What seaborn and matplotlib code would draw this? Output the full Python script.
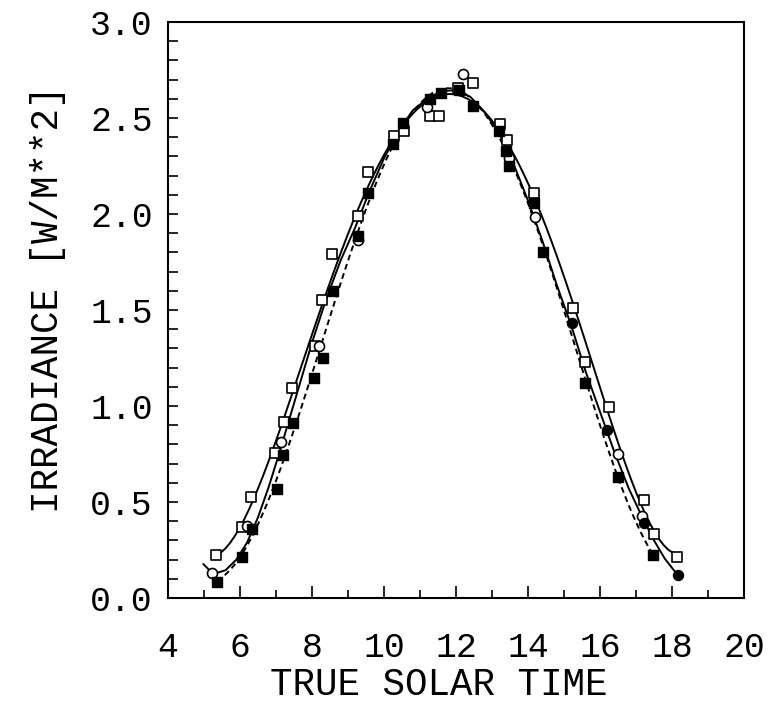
import numpy as np
import pandas as pd
import matplotlib
matplotlib.use("Agg")
import matplotlib.pyplot as plt
import seaborn as sns
from matplotlib.ticker import MultipleLocator, FormatStrFormatter

# ---- data ----
open_sq_x = [5.33, 6.05, 6.31, 6.97, 7.22, 7.44, 8.07, 8.29, 8.55, 9.29, 9.55, 10.28, 10.56,
             11.28, 11.54, 12.05, 12.46, 13.22, 13.43, 14.17, 15.26, 15.58, 16.25, 17.23, 17.50, 18.15]
open_sq_y = [0.224, 0.370, 0.526, 0.754, 0.918, 1.095, 1.310, 1.550, 1.790, 1.990, 2.220, 2.406, 2.434,
             2.510, 2.510, 2.655, 2.680, 2.470, 2.385, 2.110, 1.510, 1.230, 0.993, 0.510, 0.333, 0.212]

open_ci_x = [5.21, 6.20, 7.15, 8.20, 9.29, 11.20, 12.20, 13.48, 14.19, 16.51, 17.18]
open_ci_y = [0.130, 0.376, 0.814, 1.310, 1.865, 2.556, 2.730, 2.290, 1.986, 0.750, 0.427]

fill_ci_x = [15.21, 16.20, 17.23, 18.18]
fill_ci_y = [1.434, 0.875, 0.392, 0.120]

fill_sq_x = [5.35, 6.05, 6.32, 7.04, 7.20, 7.46, 8.06, 8.31, 8.57, 9.29, 9.55, 10.26, 10.52,
             11.28, 11.57, 12.09, 12.48, 13.20, 13.39, 13.48, 14.17, 14.43, 15.58, 16.51, 17.48]
fill_sq_y = [0.085, 0.215, 0.358, 0.566, 0.745, 0.910, 1.144, 1.250, 1.600, 1.885, 2.110, 2.365, 2.476,
             2.600, 2.630, 2.646, 2.560, 2.430, 2.330, 2.250, 2.056, 1.800, 1.118, 0.632, 0.224]

# middle solid curve
mid_curve_x = [4.98, 5.15, 5.35, 5.60, 5.90, 6.20, 6.50, 6.80, 7.10, 7.40, 7.70, 8.00, 8.40, 8.80,
               9.20, 9.60, 10.00, 10.40, 10.80, 11.20, 11.60, 12.00, 12.40, 12.80, 13.20, 13.60,
               14.00, 14.40, 14.80, 15.20, 15.60, 16.00, 16.40, 16.80, 17.20, 17.50, 17.80, 18.05, 18.20]
mid_curve_y = [0.177, 0.145, 0.130, 0.145, 0.200, 0.290, 0.420, 0.580, 0.760, 0.950, 1.140, 1.330,
               1.560, 1.760, 1.930, 2.120, 2.290, 2.430, 2.540, 2.600, 2.640, 2.645, 2.610, 2.530,
               2.420, 2.260, 2.070, 1.860, 1.630, 1.420, 1.180, 0.970, 0.760, 0.570, 0.410, 0.300,
               0.205, 0.145, 0.120]

x_ticks = [4, 6, 8, 10, 12, 14, 16, 18, 20]
y_ticks = [0.0, 0.5, 1.0, 1.5, 2.0, 2.5, 3.0]

df_sq = pd.DataFrame({"t": open_sq_x, "e": open_sq_y})
df_fs = pd.DataFrame({"t": fill_sq_x, "e": fill_sq_y})

sns.set_theme(style="white")
plt.rcParams["font.family"] = ["Liberation Mono", "DejaVu Sans Mono"]

fig = plt.figure(figsize=(7.68, 7.04), dpi=100)
ax = fig.add_axes([168 / 768, 106 / 704, 576 / 768, 576 / 704])

# curves
sns.regplot(data=df_sq, x="t", y="e", order=6, ci=None, scatter=False, truncate=True,
            color="black", line_kws={"lw": 1.4}, ax=ax)
sns.lineplot(x=mid_curve_x, y=mid_curve_y, sort=False, estimator=None,
             color="black", lw=1.4, ax=ax)
sns.regplot(data=df_fs, x="t", y="e", order=6, ci=None, scatter=False, truncate=True,
            color="black", line_kws={"lw": 1.4, "ls": (0, (3, 2))}, ax=ax)

# markers
ms = 52
sns.scatterplot(x=open_sq_x, y=open_sq_y, marker="s", s=ms, facecolor="white",
                edgecolor="black", linewidth=1.2, ax=ax, zorder=3)
sns.scatterplot(x=open_ci_x, y=open_ci_y, marker="o", s=ms, facecolor="white",
                edgecolor="black", linewidth=1.2, ax=ax, zorder=3)
sns.scatterplot(x=fill_sq_x, y=fill_sq_y, marker="s", s=ms, color="black",
                edgecolor="black", linewidth=1.0, ax=ax, zorder=4)
sns.scatterplot(x=fill_ci_x, y=fill_ci_y, marker="o", s=ms, color="black",
                edgecolor="black", linewidth=1.0, ax=ax, zorder=4)

ax.set_xlim(4, 20)
ax.set_ylim(0, 3.0)
ax.set_xticks(x_ticks)
ax.set_yticks(y_ticks)
ax.xaxis.set_minor_locator(MultipleLocator(1))
ax.yaxis.set_minor_locator(MultipleLocator(0.1))
ax.yaxis.set_major_formatter(FormatStrFormatter("%.1f"))

ax.tick_params(axis="both", which="both", direction="in", colors="black",
               bottom=True, left=True, top=False, right=False, labelsize=25)
ax.tick_params(axis="x", which="major", length=9, width=1.2, pad=24)
ax.tick_params(axis="x", which="minor", length=6, width=1.2)
ax.tick_params(axis="y", which="major", length=7, width=1.2, pad=11)
ax.tick_params(axis="y", which="minor", length=7, width=1.2)

for sp in ax.spines.values():
    sp.set_color("black")
    sp.set_linewidth(1.5)

ax.set_xlabel("TRUE SOLAR TIME", fontsize=27, color="black")
ax.set_ylabel("IRRADIANCE [W/M**2]", fontsize=27, color="black")
ax.xaxis.set_label_coords(0.47, -0.151)
ax.xaxis.label.set_va("center")
ax.yaxis.set_label_coords(-0.208, 0.519)
ax.yaxis.label.set_va("center")

fig.savefig("out.png", dpi=100, facecolor="white")
